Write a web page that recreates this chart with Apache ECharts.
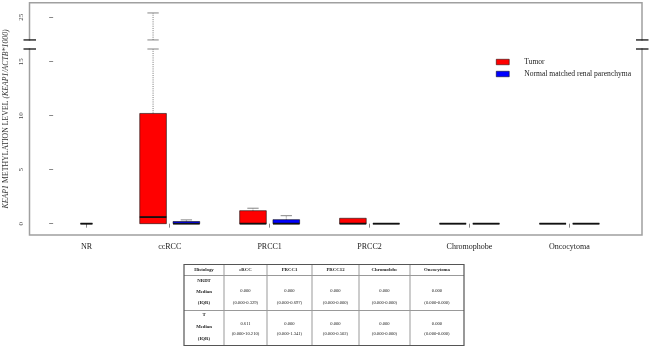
<!DOCTYPE html>
<html><head><meta charset="utf-8">
<script src="https://cdn.jsdelivr.net/npm/echarts@6/dist/echarts.min.js"></script>
<style>html,body{margin:0;padding:0;background:#fff}#c{width:650px;height:348px}</style>
</head><body><div id="c"></div>
<script>
// ---------- data ----------
const categories = ['NR', 'ccRCC', 'PRCC1', 'PRCC2', 'Chromophobe', 'Oncocytoma'];
// box stats: [min, Q1, median, Q3, max]
const nrBox = [0, 0, 0, 0, 0];
const tumorBoxes = [null, [0, 0, 0.611, 10.21, 25.4], [0, 0, 0, 1.2, 1.43], [0, 0, 0, 0.5, 0.5], [0, 0, 0, 0, 0], [0, 0, 0, 0, 0]];
const normalBoxes = [null, [0, 0, 0, 0.2, 0.35], [0, 0, 0, 0.37, 0.74], [0, 0, 0, 0, 0], [0, 0, 0, 0, 0], [0, 0, 0, 0, 0]];
const yTicks = [0, 5, 10, 15, 25];
const yBreak = [16.18, 22.9];
const tableHeader = ['Histology', 'cRCC', 'PRCC1', 'PRCC12', 'Chromofobe', 'Oncocytoma'];
const tableRowLabels = [['NRDT', 'Median', '(IQR)'], ['T', 'Median', '(IQR)']];
const tableMedians = [['0.000', '0.000', '0.000', '0.000', '0.000'], ['0.611', '0.000', '0.000', '0.000', '0.000']];
const tableIQR = [['(0.000-0.329)', '(0.000-0.697)', '(0.000-0.000)', '(0.000-0.000)', '(0.000-0.000)'],
                  ['(0.000-10.210)', '(0.000-1.341)', '(0.000-0.502)', '(0.000-0.000)', '(0.000-0.000)']];

// ---------- layout ----------
const FONT = 'Liberation Serif';
const posOf = (i, g) => i === 0 ? 1 : 3 * i + g;          // g: 0 tumor, 1 normal
const labelPos = categories.map((c, i) => i === 0 ? 1 : 3 * i + 0.5);
const boxW = 0.8, nrW = 0.36, capW = 0.34;

function mkData(boxes, g) {
  const out = [];
  boxes.forEach((b, i) => { if (b) out.push([posOf(i, g)].concat(b)); });
  return out;
}

function renderer(widthUnits) {
  return function (params, api) {
    const x = api.value(0);
    const mn = api.value(1), q1 = api.value(2), md = api.value(3), q3 = api.value(4), mx = api.value(5);
    const cx = api.coord([x, 0])[0];
    const hw = api.size([widthUnits, 0])[0] / 2;
    const hc = api.size([capW, 0])[0] / 2;
    const y = v => api.coord([x, v])[1];
    const color = api.visual('color');
    const ch = [];
    const seg = (a, b) => ch.push({ type: 'line', shape: { x1: cx, y1: y(a), x2: cx, y2: y(b) },
      style: { stroke: '#555', lineWidth: 0.8, lineDash: [1, 1.2] } });
    const cap = v => ch.push({ type: 'line', shape: { x1: cx - hc, y1: y(v), x2: cx + hc, y2: y(v) },
      style: { stroke: '#666', lineWidth: 0.8 } });
    if (mx > q3) {
      if (mx > yBreak[0] && q3 < yBreak[0]) {
        seg(q3, yBreak[0]); cap(yBreak[0]);
        seg(yBreak[1], mx); cap(yBreak[1]); cap(mx);
      } else { seg(q3, mx); cap(mx); }
    }
    if (mn < q1) { seg(mn, q1); cap(mn); }
    ch.push({ type: 'rect', shape: { x: cx - hw, y: y(q3), width: 2 * hw, height: y(q1) - y(q3) },
      style: { fill: color, stroke: '#111', lineWidth: 0.6 } });
    ch.push({ type: 'line', shape: { x1: cx - hw, y1: y(md), x2: cx + hw, y2: y(md) },
      style: { stroke: '#111', lineWidth: 1.8 } });
    return { type: 'group', children: ch };
  };
}

const chart = echarts.init(document.getElementById('c'), null, { renderer: 'canvas' });
const option = {
  animation: false,
  backgroundColor: '#fff',
  grid: { left: 29.5, right: 8, top: 2.7, bottom: 113, show: true, borderColor: '#a0a0a0', borderWidth: 1.5,
          containLabel: false, outerBoundsMode: 'none' },
  legend: {
    orient: 'vertical', left: 496, top: 58, padding: 0, icon: 'rect', itemWidth: 13, itemHeight: 5.5, itemGap: 4,
    data: ['Tumor', 'Normal matched renal parenchyma'],
    itemStyle: { borderColor: '#000', borderWidth: 0.5 },
    textStyle: { fontFamily: FONT, fontSize: 7.6, color: '#222', lineHeight: 7.5, padding: [0, 0, 0, 10] }
  },
  xAxis: {
    type: 'value', min: -0.71, max: 17.68,
    splitLine: { show: false }, axisLine: { show: false },
    axisTick: { show: true, length: 4, lineStyle: { color: '#888' }, customValues: labelPos },
    axisLabel: {
      customValues: labelPos, margin: 8, fontFamily: FONT, fontSize: 8, color: '#222',
      formatter: v => { const i = labelPos.indexOf(v); return i >= 0 ? categories[i] : ''; }
    }
  },
  yAxis: {
    type: 'value', min: -1.05, max: 26.35,
    breaks: [{ start: yBreak[0], end: yBreak[1], gap: '3.9%' }],
    breakArea: { show: false },
    splitLine: { show: false }, axisLine: { show: false },
    axisTick: { show: true, length: 4, lineStyle: { color: '#888' }, customValues: yTicks },
    axisLabel: { customValues: yTicks, rotate: 90, margin: 5, fontFamily: FONT, fontSize: 7, color: '#444' },
    name: '{i|KEAP1} METHYLATION LEVEL {i|(KEAP1/ACTB*1000)}',
    nameLocation: 'middle', nameGap: 20,
    nameTextStyle: { fontFamily: FONT, fontSize: 7.8, color: '#333',
      rich: { i: { fontStyle: 'italic', fontFamily: FONT, fontSize: 7.8, color: '#333' } } }
  },
  series: [
    { type: 'custom', name: 'NR', renderItem: renderer(nrW), itemStyle: { color: '#ffffff' },
      encode: { x: 0, y: [1, 2, 3, 4, 5] }, data: [[posOf(0, 0)].concat(nrBox)] },
    { type: 'custom', name: 'Tumor', renderItem: renderer(boxW), itemStyle: { color: '#ff0000', borderColor: '#000', borderWidth: 0.5 },
      encode: { x: 0, y: [1, 2, 3, 4, 5] }, data: mkData(tumorBoxes, 0) },
    { type: 'custom', name: 'Normal matched renal parenchyma', renderItem: renderer(boxW), itemStyle: { color: '#0000ff', borderColor: '#000', borderWidth: 0.5 },
      encode: { x: 0, y: [1, 2, 3, 4, 5] }, data: mkData(normalBoxes, 1) }
  ]
};
chart.setOption(option);

// ---------- axis break marks + table ----------
const g = [];
const yb0 = chart.convertToPixel({ yAxisIndex: 0 }, yBreak[0]);
const yb1 = chart.convertToPixel({ yAxisIndex: 0 }, yBreak[1]);
const xl = chart.convertToPixel({ xAxisIndex: 0 }, -0.71);
const xr = chart.convertToPixel({ xAxisIndex: 0 }, 17.68);
[xl, xr].forEach(xx => {
  g.push({ type: 'rect', shape: { x: xx - 2, y: yb1 + 0.8, width: 4, height: yb0 - yb1 - 1.6 }, style: { fill: '#fff' }, z: 100 });
  [yb0, yb1].forEach(yy => g.push({ type: 'line', shape: { x1: xx - 6, y1: yy, x2: xx + 6.5, y2: yy },
    style: { stroke: '#111', lineWidth: 1.3 }, z: 101 }));
});

const colX = [184, 224, 267, 312, 359, 410, 464];
const rowY = [264.5, 275.5, 310.5, 345.5];
const labelOff = [[5.2, 16.5, 27.2], [4.5, 16.2, 27.8]];
const valOff = [[15.2, 26.8], [12.8, 23.5]];
for (let i = 1; i < colX.length - 1; i++)
  g.push({ type: 'line', shape: { x1: colX[i], y1: rowY[0], x2: colX[i], y2: rowY[3] }, style: { stroke: '#999', lineWidth: 1 } });
for (let j = 1; j < rowY.length - 1; j++)
  g.push({ type: 'line', shape: { x1: colX[0], y1: rowY[j], x2: colX[6], y2: rowY[j] }, style: { stroke: '#999', lineWidth: 1 } });
g.push({ type: 'rect', shape: { x: colX[0], y: rowY[0], width: colX[6] - colX[0], height: rowY[3] - rowY[0] },
  style: { fill: 'none', stroke: '#555', lineWidth: 1.2 } });
const txt = (s, x, y, bold, size) => g.push({ type: 'text', x: x, y: y,
  style: { text: s, fontFamily: FONT, fontSize: size, fontWeight: bold ? 'bold' : 'normal', fill: '#222', align: 'center', verticalAlign: 'middle' } });
tableHeader.forEach((h, i) => txt(h, (colX[i] + colX[i + 1]) / 2, (rowY[0] + rowY[1]) / 2, true, 4.8));
tableRowLabels.forEach((lines, r) => {
  lines.forEach((s, k) => txt(s, (colX[0] + colX[1]) / 2, rowY[r + 1] + labelOff[r][k], true, 4.8));
  tableMedians[r].forEach((s, c) => txt(s, (colX[c + 1] + colX[c + 2]) / 2, rowY[r + 1] + valOff[r][0], false, 4.6));
  tableIQR[r].forEach((s, c) => txt(s, (colX[c + 1] + colX[c + 2]) / 2, rowY[r + 1] + valOff[r][1], false, 4.6));
});
chart.setOption({ graphic: { elements: g } });
</script></body></html>
